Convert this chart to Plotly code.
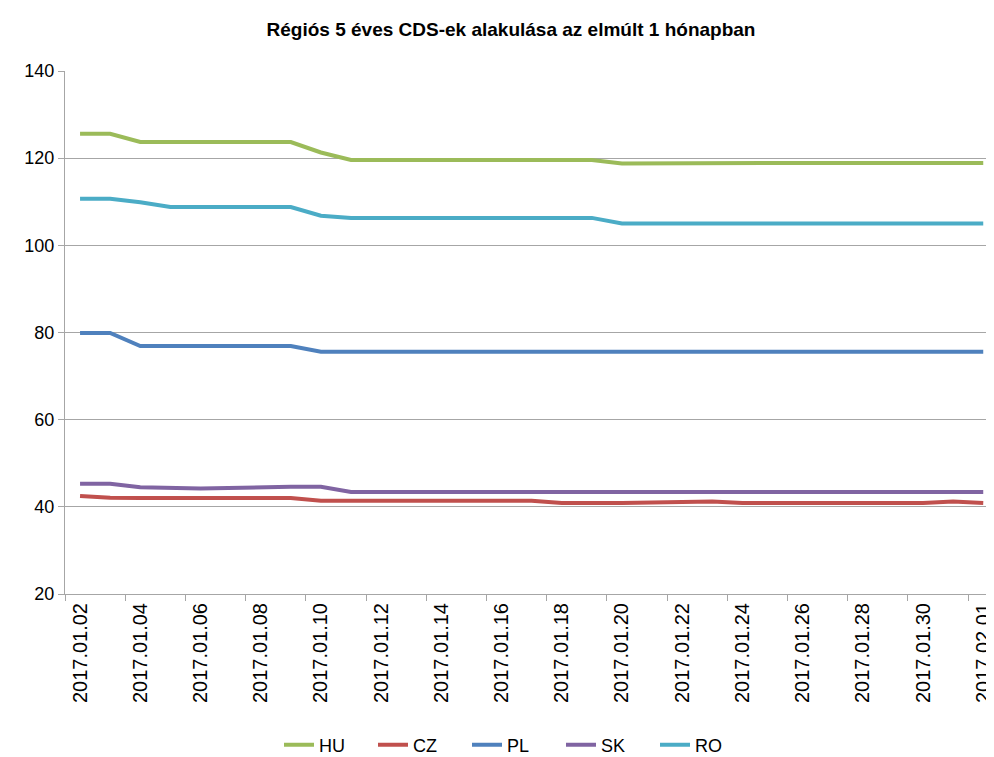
import plotly.graph_objects as go

dates = ["2017-01-02", "2017-01-03", "2017-01-04", "2017-01-05", "2017-01-06",
         "2017-01-09", "2017-01-10", "2017-01-11", "2017-01-12", "2017-01-13",
         "2017-01-16", "2017-01-17", "2017-01-18", "2017-01-19", "2017-01-20",
         "2017-01-23", "2017-01-24", "2017-01-25", "2017-01-26", "2017-01-27",
         "2017-01-30", "2017-01-31", "2017-02-01"]

HU = [125.6, 125.6, 123.7, 123.7, 123.7, 123.7, 121.3, 119.6, 119.6, 119.6,
      119.6, 119.6, 119.6, 119.6, 118.8, 118.9, 118.9, 118.9, 118.9, 118.9,
      118.9, 118.9, 118.9]
CZ = [42.5, 42.1, 42.0, 42.0, 42.0, 42.0, 41.4, 41.4, 41.4, 41.4,
      41.4, 41.4, 40.9, 40.9, 40.9, 41.2, 40.9, 40.9, 40.9, 40.9,
      40.9, 41.2, 40.9]
PL = [79.9, 79.9, 76.9, 76.9, 76.9, 76.9, 75.6, 75.6, 75.6, 75.6,
      75.6, 75.6, 75.6, 75.6, 75.6, 75.6, 75.6, 75.6, 75.6, 75.6,
      75.6, 75.6, 75.6]
SK = [45.3, 45.3, 44.5, 44.4, 44.2, 44.6, 44.6, 43.4, 43.4, 43.4,
      43.4, 43.4, 43.4, 43.4, 43.4, 43.4, 43.4, 43.4, 43.4, 43.4,
      43.4, 43.4, 43.4]
RO = [110.7, 110.7, 109.9, 108.8, 108.8, 108.8, 106.8, 106.3, 106.3, 106.3,
      106.3, 106.3, 106.3, 106.3, 105.0, 105.0, 105.0, 105.0, 105.0, 105.0,
      105.0, 105.0, 105.0]

series = [("HU", HU, "#9BBB59"), ("CZ", CZ, "#C0504D"), ("PL", PL, "#4F81BD"),
          ("SK", SK, "#8064A2"), ("RO", RO, "#4BACC6")]

title_text = "Régiós 5 éves CDS-ek alakulása az elmúlt 1 hónapban"

fig = go.Figure()
for name, vals, color in series:
    fig.add_trace(go.Scatter(x=dates, y=vals, name=name, mode="lines",
                             line=dict(color=color, width=4)))

DAY = 86400000
grid = "#A6A6A6"
W, H = 986, 749  # page body adds an 8px offset
fig.update_layout(
    width=W, height=H,
    margin=dict(l=57, r=0, t=63, b=163),
    paper_bgcolor="white", plot_bgcolor="white",
    font=dict(family="Liberation Sans, Arial, sans-serif", size=18, color="#000000"),
    title=dict(text="<b>" + title_text + "</b>", x=503 / W, xref="container",
               xanchor="center", y=1 - 21 / H, yref="container", yanchor="middle",
               font=dict(family="Liberation Sans, Arial", size=19)),
    showlegend=True,
    legend=dict(orientation="h", x=506 / W, xref="container", xanchor="center",
                y=(H - 737) / H, yref="container", yanchor="middle",
                font=dict(size=18), tracegroupgap=0,
                entrywidth=49, entrywidthmode="pixels"),
    xaxis=dict(
        type="date",
        range=["2017-01-01 12:00", "2017-02-01 03:00"],
        tick0="2017-01-02", dtick=2 * DAY, tickformat="%Y.%m.%d",
        tickangle=-90, ticks="", showgrid=False, ticklabeloverflow="allow",
        showline=True, linecolor=grid, linewidth=1,
        tickfont=dict(size=20),
        minor=dict(tick0="2017-01-01 12:00", dtick=2 * DAY, ticks="outside",
                   ticklen=6, tickcolor=grid, showgrid=False),
    ),
    yaxis=dict(
        range=[20, 140], dtick=20, tick0=20,
        showgrid=True, gridcolor=grid, gridwidth=1,
        showline=True, linecolor=grid, linewidth=1,
        ticks="outside", ticklen=6, tickcolor=grid,
        zeroline=False, tickfont=dict(size=18),
    ),
)

fig.write_html("out.html")
